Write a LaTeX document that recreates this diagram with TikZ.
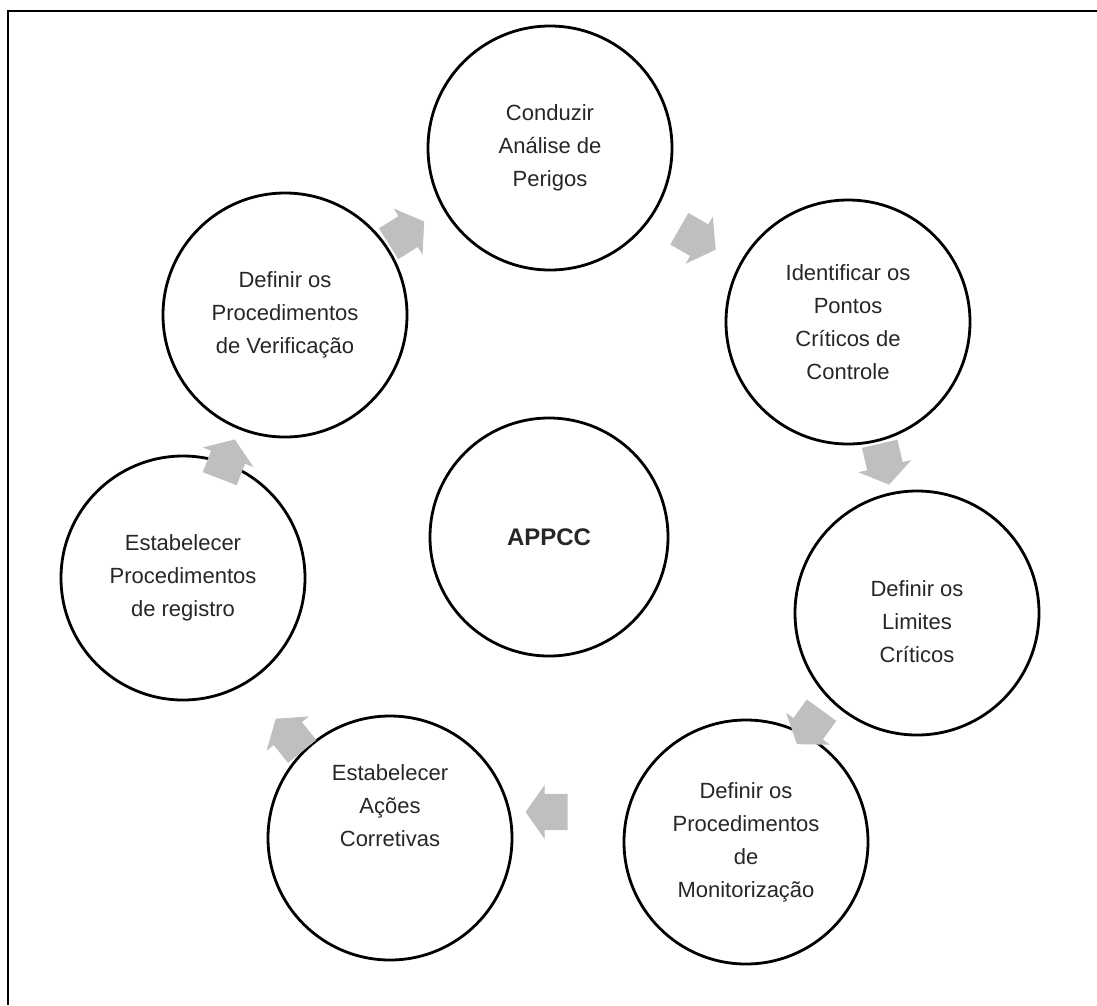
\documentclass[tikz,border=0pt]{standalone}
\usepackage{fontspec}
\setmainfont{Liberation Sans}
\usetikzlibrary{shapes.arrows}
\tikzset{
  stepcircle/.style={circle, draw=black, line width=2.8pt, minimum size=244pt, inner sep=0pt, align=center, font=\fontsize{22}{33}\selectfont, text=black!85},
  steptext/.style={align=center, font=\fontsize{22}{33}\selectfont, text=black!85, inner sep=0pt},
  blockarrow/.style={single arrow, fill=black!25, draw=none, minimum height=42pt, inner xsep=0pt, inner ysep=18pt, single arrow head extend=9pt, single arrow tip angle=110},
  frameline/.style={line width=2.6pt, black}
}
\begin{document}
\begin{tikzpicture}[x=1pt,y=-1pt]
\useasboundingbox (0,0) rectangle (1097,1005);
\coordinate (fb) at (8,1005);
\coordinate (fc) at (8,11);
\coordinate (fr) at (1097,11);
\draw[frameline] (fb) -- (fc) -- (fr);

\node[stepcircle] (A) at (550,148) {Conduzir\\Análise de\\Perigos};
\node[stepcircle] (B) at (848,322) {Identificar os\\Pontos\\Críticos de\\Controle};
\node[stepcircle] (C) at (917,613) {};
\node[steptext] (Ct) at (917,622) {Definir os\\Limites\\Críticos};
\node[stepcircle] (D) at (746,842) {Definir os\\Procedimentos\\de\\Monitorização};
\node[stepcircle] (E) at (390,838) {};
\node[steptext] (Et) at (390,806) {Estabelecer\\Ações\\Corretivas};
\node[stepcircle] (F) at (183,578) {Estabelecer\\Procedimentos\\de registro};
\node[stepcircle] (G) at (285,315) {Definir os\\Procedimentos\\de Verificação};
\node[stepcircle, minimum size=238pt, font=\fontsize{24}{30}\selectfont\bfseries] (H) at (549,537) {APPCC};

\node[blockarrow, rotate=32] (a1) at (401,236) {};
\node[blockarrow, rotate=-30] (a2) at (692,236) {};
\node[blockarrow, rotate=-77] (a3) at (883,458) {};
\node[blockarrow, rotate=-126] (a4) at (813,722) {};
\node[blockarrow, rotate=180] (a5) at (553,812) {};
\node[blockarrow, rotate=129] (a6) at (293,740) {};
\node[blockarrow, rotate=69] (a7) at (225,465) {};
\end{tikzpicture}
\end{document}
